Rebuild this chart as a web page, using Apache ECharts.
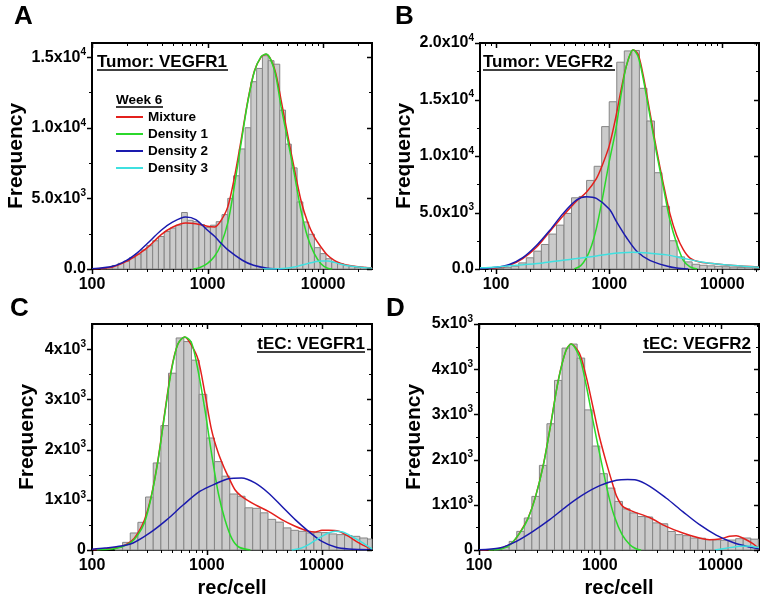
<!DOCTYPE html>
<html><head><meta charset="utf-8">
<script src="https://cdn.jsdelivr.net/npm/echarts@6/dist/echarts.min.js"></script>
<style>html,body{margin:0;padding:0;background:#fff}#c{width:766px;height:608px}</style>
</head><body><div id="c"></div>
<script>
// ---------------- DATA ----------------
const xTickLabels = [100, 1000, 10000];
const yTicksA = [0, 5000, 10000, 15000];
const yTicksB = [0, 5000, 10000, 15000, 20000];
const yTicksC = [0, 1000, 2000, 3000, 4000];
const yTicksD = [0, 1000, 2000, 3000, 4000, 5000];

// Histogram bins: first edge (log10 rec/cell), bins per decade, counts
const binStartA = 2.075, binsPerDecadeA = 20;
const countsA = [40,120,250,400,550,800,1050,1350,1650,2000,2300,2650,2900,3100,4000,3450,3350,3150,2950,3100,3350,3850,5000,6600,8500,10000,13260,14200,15100,14750,14500,11250,8840,7160,4750,3330,2460,1510,1090,730,500,380,260,190,140,120,70];
const binStartB = 1.9333, binsPerDecadeB = 15;
const countsB = [20,60,150,250,540,990,1580,2170,3090,3880,4920,6300,6420,7840,9090,12600,14800,18300,19300,19340,15990,13100,8520,5550,2500,1070,630,420,330,280,240,200,170,140,110,90];
const binStartC = 2.2, binsPerDecadeC = 15;
const countsC = [50,152,339,551,1055,1733,2477,3520,4222,4150,3780,3100,2230,1760,1470,1115,1070,840,830,740,610,555,440,392,372,340,350,346,320,306,286,272,239,219];
const binStartD = 2.125, binsPerDecadeD = 16;
const countsD = [30,60,190,412,708,1186,1872,2793,3752,4467,4556,4246,3100,2300,1688,1370,1075,910,820,740,730,600,580,410,340,317,265,260,230,225,215,220,250,265,240];

// Fitted curves [rec/cell, frequency]
const mixtureA = [[100,10],[130,60],[151,140],[199,540],[251,1040],[301,1510],[397,2430],[501,2970],[645,3260],[791,3210],[1000,3020],[1157,2980],[1300,3400],[1496,4400],[1710,6500],[1950,9100],[2230,11900],[2540,14000],[2905,15000],[3210,15200],[3790,14200],[4330,11960],[4940,9480],[5630,7115],[6430,4870],[7340,3330],[8390,2270],[9580,1560],[10940,970],[12500,615],[14270,400],[16300,260],[18600,200],[22000,130],[26500,80]];
const density1A = [[750,0],[850,90],[1000,400],[1150,900],[1300,1700],[1500,3300],[1710,5900],[1950,8890],[2230,11840],[2540,13970],[2905,15030],[3210,15220],[3790,14090],[4330,11490],[4940,9125],[5630,6760],[6430,4160],[7340,2270],[8390,1090],[9580,380],[10940,50],[12000,0]];
const density2A = [[100,10],[151,190],[199,610],[251,1200],[301,1800],[397,2740],[501,3330],[645,3680],[791,3500],[1000,2740],[1157,2300],[1300,1850],[1500,1350],[2000,620],[2500,260],[3300,60],[4500,0]];
const density3A = [[3000,0],[4500,40],[5630,140],[6430,260],[7340,380],[8390,500],[9580,570],[10940,570],[12500,470],[14270,330],[16300,230],[18600,170],[22000,110],[26500,60]];

const mixtureB = [[72,40],[100,100],[131,330],[172,920],[226,1900],[297,3300],[390,4700],[512,6000],[628,6800],[770,8000],[862,9100],[1000,10900],[1141,13400],[1282,16000],[1420,18000],[1630,19400],[1800,19000],[2000,17100],[2290,13850],[2620,10570],[3000,7600],[3440,4900],[3950,2970],[4520,1710],[5180,970],[6350,620],[8900,440],[12500,300],[21100,170]];
const density1B = [[490,0],[560,300],[630,1000],[700,2100],[770,3600],[862,6000],[1000,9500],[1141,12300],[1282,15600],[1420,18000],[1630,19400],[1800,18800],[2000,16800],[2290,13550],[2620,10280],[3000,7310],[3440,4340],[3950,2260],[4520,770],[5180,180],[6000,0]];
const density2B = [[72,30],[100,150],[131,400],[172,1000],[226,2050],[297,3400],[390,4900],[512,6100],[630,6400],[770,6250],[1000,5300],[1159,4200],[1420,2790],[1742,1600],[2285,770],[3215,270],[3945,90],[5000,0]];
const density3B = [[72,100],[100,180],[131,280],[172,380],[259,540],[390,780],[512,920],[770,1150],[1000,1330],[1282,1440],[1600,1490],[2285,1400],[3215,1250],[4520,950],[6345,650],[8910,440],[12530,300],[21100,150]];

const mixtureC = [[100,5],[128,20],[180,72],[219,172],[251,338],[287,604],[328,1068],[376,1800],[430,2730],[491,3590],[560,4100],[642,4243],[735,4080],[841,3790],[962,3127],[1099,2396],[1259,1930],[1440,1600],[1540,1460],[1760,1200],[2010,1069],[2630,903],[3440,770],[4500,604],[5890,472],[7700,372],[8810,358],[10070,392],[11500,392],[14100,372],[17200,272],[21100,140],[25900,40],[27500,20]];
const density1C = [[110,5],[150,20],[180,60],[219,150],[251,300],[287,550],[328,1050],[376,1780],[430,2700],[491,3560],[560,4100],[642,4243],[735,4130],[841,3560],[962,2800],[1099,1930],[1259,1135],[1440,604],[1660,220],[1900,60],[2400,0]];
const density2C = [[100,15],[130,40],[180,80],[228,140],[319,340],[447,600],[625,900],[875,1170],[1222,1330],[1540,1420],[2010,1434],[2630,1335],[3440,1135],[4500,870],[5890,604],[7700,372],[10070,172],[13200,60],[17200,20],[27500,5]];
const density3C = [[5500,0],[6700,40],[7700,106],[8800,190],[10070,272],[11500,340],[13200,372],[15000,365],[17200,306],[20000,220],[22500,153],[25000,80],[27500,20]];

const mixtureD = [[100,2],[138,17],[178,115],[200,240],[221,412],[255,708],[294,1186],[340,1872],[393,2793],[453,3752],[523,4400],[578,4556],[677,4355],[771,3840],[875,3180],[994,2500],[1128,1950],[1281,1450],[1380,1186],[1550,965],[1875,855],[2577,720],[3540,523],[4865,376],[6690,265],[8090,229],[9790,243],[11850,302],[13460,317],[15280,265],[18500,140],[20800,30]];
const density1D = [[120,0],[150,15],[178,100],[221,400],[255,700],[294,1180],[340,1860],[393,2780],[453,3740],[523,4400],[578,4556],[677,4280],[771,3650],[875,2880],[994,2150],[1170,1260],[1320,745],[1530,340],[1775,118],[2015,22],[2200,0]];
const density2D = [[100,7],[148,44],[204,192],[280,413],[385,671],[530,966],[728,1224],[1000,1423],[1374,1541],[1700,1560],[2000,1550],[2597,1410],[3540,1150],[4865,850],[6700,560],[9200,330],[12700,165],[17400,64],[20800,25]];
const density3D = [[9000,0],[11100,40],[14300,84],[17300,90],[20800,55]];

const seriesNames = ['Mixture', 'Density 1', 'Density 2', 'Density 3'];

// ---------------- LAYOUT / STYLE ----------------
const FONT = '"Liberation Sans", Arial, Helvetica, sans-serif';
const COLORS = {'Mixture':'#e3201c', 'Density 1':'#2bd82b', 'Density 2':'#1a1aae', 'Density 3':'#3fe0e0'};
const DRAW_ORDER = [0, 2, 3, 1];

const panels = [
  {grid:{left:92, top:43, width:280, height:226}, xRange:[100,26500], yMax:16000, yTicks:yTicksA, dec:true, nameGap:65, xName:'',
   binStart:binStartA, perDecade:binsPerDecadeA, counts:countsA, curves:[mixtureA,density1A,density2A,density3A]},
  {grid:{left:480, top:43, width:279, height:226}, xRange:[72,21100], yMax:20000, yTicks:yTicksB, dec:true, nameGap:65, xName:'',
   binStart:binStartB, perDecade:binsPerDecadeB, counts:countsB, curves:[mixtureB,density1B,density2B,density3B]},
  {grid:{left:92, top:324, width:280, height:226}, xRange:[100,27500], yMax:4500, yTicks:yTicksC, dec:false, nameGap:54, xName:'rec/cell',
   binStart:binStartC, perDecade:binsPerDecadeC, counts:countsC, curves:[mixtureC,density1C,density2C,density3C]},
  {grid:{left:479, top:324, width:280, height:226}, xRange:[100,20800], yMax:5000, yTicks:yTicksD, dec:false, nameGap:54, xName:'rec/cell',
   binStart:binStartD, perDecade:binsPerDecadeD, counts:countsD, curves:[mixtureD,density1D,density2D,density3D]}
];

function sciFmt(dec) {
  return function (v) {
    if (v === 0) return dec ? '0.0' : '0';
    const e = Math.floor(Math.log10(v) + 1e-9);
    const m = v / Math.pow(10, e);
    return '{m|' + (dec ? m.toFixed(1) : m.toFixed(0)) + 'x10}{s|' + e + '}';
  };
}
const labelRich = {
  m: {fontSize:16, fontWeight:'bold', fontFamily:FONT, color:'#000', lineHeight:20},
  s: {fontSize:10, fontWeight:'bold', fontFamily:FONT, color:'#000', lineHeight:11, verticalAlign:'top'}
};

function renderBar(params, api) {
  const lo = api.value(0), hi = api.value(1), c = api.value(2);
  const p0 = api.coord([lo, 0]);
  const p1 = api.coord([hi, c]);
  const cs = params.coordSys;
  const shape = echarts.graphic.clipRectByRect(
    {x:p0[0], y:p1[1], width:p1[0]-p0[0], height:p0[1]-p1[1]},
    {x:cs.x, y:cs.y, width:cs.width, height:cs.height});
  if (!shape) return;
  return {type:'rect', shape:shape, style:{fill:'#cbcbcb', stroke:'#858585', lineWidth:1}};
}

// tick marks: item = [x, y, dir(0 = x tick, 1 = y tick), major(1)/minor(0)]
function renderTick(params, api) {
  const cs = params.coordSys;
  const dir = api.value(2), major = api.value(3);
  const len = major ? 5 : 3;
  const st = {stroke:'#000', lineWidth: major ? 1.5 : 1};
  const pt = api.coord([api.value(0), api.value(1)]);
  if (dir === 0) {
    const x = Math.round(pt[0]) + 0.5, yb = cs.y + cs.height, yt = cs.y;
    return {type:'group', children:[
      {type:'line', shape:{x1:x, y1:yb, x2:x, y2:yb + len}, style:st},
      {type:'line', shape:{x1:x, y1:yt, x2:x, y2:yt + len}, style:st}]};
  }
  const y = Math.round(pt[1]) + 0.5, xl = cs.x, xr = cs.x + cs.width;
  return {type:'group', children:[
    {type:'line', shape:{x1:xl - len, y1:y, x2:xl, y2:y}, style:st},
    {type:'line', shape:{x1:xr - len, y1:y, x2:xr, y2:y}, style:st}]};
}

const grids = [], xAxes = [], yAxes = [], series = [];
const frameLine = {show:true, onZero:false, lineStyle:{color:'#000', width:2}};

panels.forEach(function (p, i) {
  grids.push(Object.assign({show:true, borderColor:'#000', borderWidth:2, backgroundColor:'transparent'}, p.grid));
  const lmin = Math.floor(Math.log10(p.xRange[0])), lmax = Math.ceil(Math.log10(p.xRange[1]));
  const xMinor = [];
  for (let d = lmin; d <= lmax; d++) for (let k = 2; k <= 9; k++) {
    const v = k * Math.pow(10, d);
    if (v > p.xRange[0] && v < p.xRange[1]) xMinor.push(v);
  }
  const xMajor = xTickLabels.filter(v => v >= p.xRange[0] && v <= p.xRange[1]);
  xAxes.push({gridIndex:i, type:'log', logBase:10, min:p.xRange[0], max:p.xRange[1], position:'bottom',
    axisLine:frameLine, splitLine:{show:false}, minorTick:{show:false}, axisTick:{show:false},
    axisLabel:{show:true, customValues:xMajor, margin:8, formatter:function(v){return String(Math.round(v));},
      fontSize:16, fontWeight:'bold', fontFamily:FONT, color:'#000'},
    name:p.xName, nameLocation:'middle', nameGap:28,
    nameTextStyle:{fontSize:20, fontWeight:'bold', fontFamily:FONT, color:'#000'}});

  const step = p.yTicks[1] - p.yTicks[0];
  const yMinor = [];
  p.yTicks.forEach(v => { if (v + step / 2 < p.yMax) yMinor.push(v + step / 2); });
  yAxes.push({gridIndex:i, type:'value', min:0, max:p.yMax, position:'left',
    axisLine:frameLine, splitLine:{show:false}, minorTick:{show:false}, axisTick:{show:false},
    axisLabel:{show:true, customValues:p.yTicks, margin:6, formatter:sciFmt(p.dec), rich:labelRich,
      fontSize:16, fontWeight:'bold', fontFamily:FONT, color:'#000'},
    name:'Frequency', nameLocation:'middle', nameGap:p.nameGap,
    nameTextStyle:{fontSize:21, fontWeight:'bold', fontFamily:FONT, color:'#000'}});

  const bins = p.counts.map(function (c, k) {
    return [Math.pow(10, p.binStart + k / p.perDecade), Math.pow(10, p.binStart + (k + 1) / p.perDecade), c];
  });
  series.push({type:'custom', xAxisIndex:i, yAxisIndex:i, renderItem:renderBar, data:bins,
    encode:{x:[0,1], y:2}, z:1, silent:true});
  DRAW_ORDER.forEach(function (j) {
    const nm = seriesNames[j];
    series.push({type:'line', name:nm, xAxisIndex:i, yAxisIndex:i, data:p.curves[j],
      smooth:0.3, symbol:'none', showSymbol:false,
      lineStyle:{color:COLORS[nm], width:1.5}, itemStyle:{color:COLORS[nm]}, z:3 + j * 0.01, silent:true});
  });
  const ticks = [];
  xMajor.forEach(v => ticks.push([v, 0, 0, 1]));
  xMinor.forEach(v => ticks.push([v, 0, 0, 0]));
  p.yTicks.forEach(v => ticks.push([p.xRange[0], v, 1, 1]));
  yMinor.forEach(v => ticks.push([p.xRange[0], v, 1, 0]));
  series.push({type:'custom', xAxisIndex:i, yAxisIndex:i, renderItem:renderTick, data:ticks,
    encode:{x:0, y:1}, clip:false, z:5, silent:true});
});

const txt = (s, x, y, size, align) => ({type:'text', x:x, y:y, silent:true,
  style:{text:s, font:'bold ' + size + 'px ' + FONT, fill:'#000', align:align || 'left', verticalAlign:'middle'}});
const uline = (x1, x2, y) => ({type:'line', silent:true, shape:{x1:x1, y1:y, x2:x2, y2:y}, style:{stroke:'#000', lineWidth:1.5}});

const option = {
  animation:false,
  backgroundColor:'#fff',
  grid:grids, xAxis:xAxes, yAxis:yAxes, series:series,
  legend:{data:seriesNames.map(n => ({name:n, icon:'rect'})), orient:'vertical', left:116, top:110, padding:0,
    itemWidth:27, itemHeight:2, itemGap:3, selectedMode:false,
    textStyle:{fontSize:13.5, fontWeight:'bold', fontFamily:FONT, color:'#000', lineHeight:14}},
  graphic:[
    txt('A', 14, 17, 26), txt('B', 395, 17, 26), txt('C', 10, 309, 26), txt('D', 386, 309, 26),
    txt('Tumor: VEGFR1', 97, 62, 17), uline(97, 228, 70),
    txt('Tumor: VEGFR2', 483, 62, 17), uline(483, 615, 70),
    txt('tEC: VEGFR1', 365, 344, 17, 'right'), uline(257, 365, 352),
    txt('tEC: VEGFR2', 751, 344, 17, 'right'), uline(643, 751, 352),
    txt('Week 6', 116, 100, 13.5), uline(116, 163, 107)
  ]
};
const chart = echarts.init(document.getElementById('c'), null, {renderer:'canvas'});
chart.setOption(option);
</script>
</body></html>
